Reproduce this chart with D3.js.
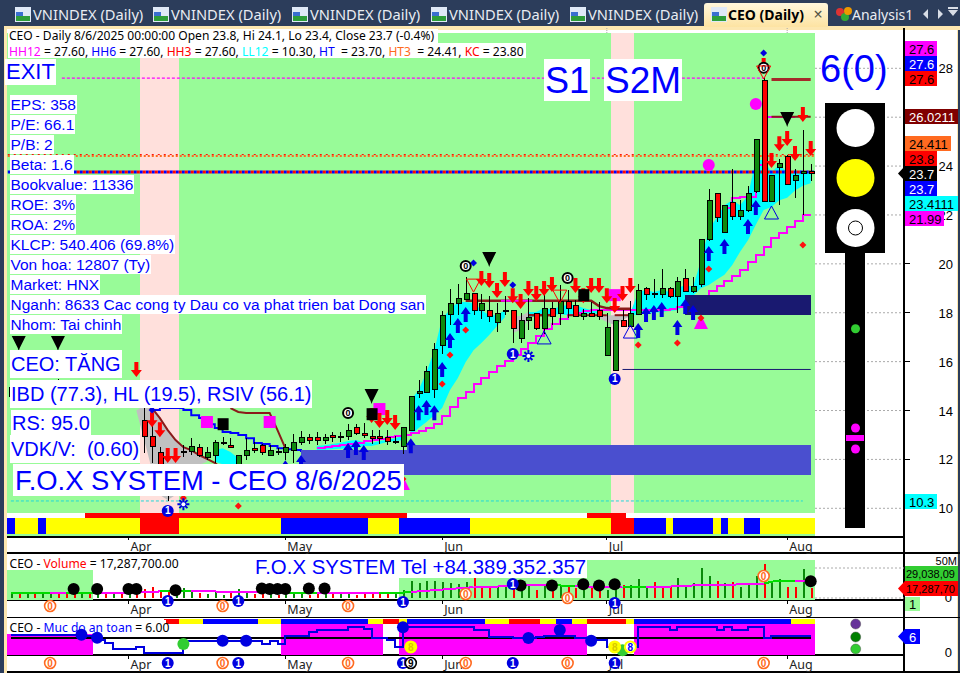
<!DOCTYPE html>
<html><head><meta charset="utf-8">
<script src="https://cdnjs.cloudflare.com/ajax/libs/d3/7.8.5/d3.min.js"></script>
<style>html,body{margin:0;padding:0;background:#fff;overflow:hidden}svg{display:block}text{white-space:pre}</style>
</head><body><svg id="c" width="960" height="673"></svg>
<script>
// Session index: 0 = 27 May 2025, -36 = 1 Apr, 51 = 6 Aug (sessions are trading days)
const firstSession=-51,lastSession=51;
const open=[14.6,14.95,14.85,15,14.85,15,15.1,15,14.9,14.8,14.9,14.75,14.85,14.7,14.8,14.6,14.7,
13.6,12.97,12.3,11.2,10.9,12.3,12.35,12.49,12.08,12.2,12.72,12.57,11.7,12.2,12.45,12.57,12.2,12.35,
12.29,12.37,12.7,12.9,12.9,12.78,12.98,12.9,12.97,13.31,13.1,12.97,12.97,12.9,12.75,12.56,
13.2,14.7,14.74,14.89,16.69,17.96,18.38,18.57,18.79,18.1,18.1,17.61,18.07,18.1,16.98,17.69,17.97,17.39,18.18,17.97,18.49,18.3,17.88,17.97,18.1,
16.28,15.67,17.7,17.46,17.95,19,18.79,18.77,19,18.68,19.41,18.9,19.18,21,22.88,21.29,22.52,21.97,22.19,23,27.52,22.58,23.97,24.41,23.42,23.7,23.8];
const high=[15,15.1,15.1,15.2,15.1,15.2,15.3,15.2,15.1,15,15.1,14.95,15,14.9,15,14.9,14.9,
14.09,13.68,12.52,11.5,11.6,12.6,12.86,12.65,12.52,12.79,12.93,12.86,12.2,12.86,12.72,12.65,12.57,12.45,
12.65,13.06,13.16,13.06,13.13,13.06,13.13,13.13,13.45,13.45,13.47,13.2,13.2,13.2,12.95,13.31,
14.59,15.25,15.83,16.75,18.07,18.96,19.18,19.45,18.79,18.77,18.68,18.38,18.68,18.1,17.97,18.59,17.97,18.79,18.45,19.13,18.93,18.52,18.14,18.45,18.45,
17.97,17.7,18.11,18.48,19.18,19.04,19.38,19.79,19.04,19.47,19.79,19.45,21.02,23.05,22.88,22.39,23.87,22.61,23.18,25.09,27.6,23.62,24.27,24.45,23.87,25.48,24.1];
const low=[14.5,14.8,14.7,14.8,14.7,14.9,14.9,14.8,14.7,14.6,14.7,14.6,14.6,14.5,14.4,14.1,14.2,
12.25,11.84,11,10.3,10.7,12.1,12.18,12.11,11.97,11.84,12.59,12.45,11.63,11.97,12.27,12.18,12.18,12.18,
11.97,11.84,12.59,12.65,12.59,12.65,12.72,12.72,12.79,13,12.86,12.65,12.65,12.59,12.63,12.22,
13.15,14.52,14.7,14.52,16.31,17.5,17.91,18.56,17.91,17.73,17.63,17.22,17.91,16.75,16.75,17.29,17.29,17.13,17.5,17.5,17.77,17.88,17.7,17.81,17.7,
16.28,15.67,17.43,17.46,17.95,18.52,18.59,18.59,18.59,18,18.9,18.79,19.04,20.95,21.73,21.29,21.8,21.8,22.13,22.91,22.58,22.58,22.41,23.28,22.71,22,23.4];
const close=[14.95,14.85,15,14.85,15,15.1,15,14.9,14.8,14.9,14.75,14.85,14.7,14.8,14.6,14.7,14.3,
12.97,12.56,11.2,10.7,11.5,12.34,12.56,12.2,12.29,12.7,12.73,12.49,12.2,12.37,12.38,12.29,12.37,12.29,
12.49,12.7,12.9,12.78,12.78,12.9,12.9,12.97,13.19,13.1,12.98,12.89,12.89,12.76,12.76,13.31,
14.59,14.78,15.6,16.5,17.89,18.38,18.59,18.79,18.1,18.38,17.88,17.97,18.1,17.39,17.69,17.81,17.39,18.18,17.88,18.49,18.18,17.88,17.97,17.88,17.88,
17.41,17.7,17.46,17.99,18.93,18.77,18.82,19,18.68,19.3,18.9,19.09,21.02,22.61,21.9,22.39,21.97,22.19,22.88,25.09,22.58,23.62,24.11,23.28,23.62,23.79,23.7];
const volume=[6,7,8,6,9,7,6,8,7,6,9,6,7,6,8,6,7,15,18,14,13,20,17,11,8,7,12,5,9,15,8,
7,6,8,5,6,7,6,5,7,9,7,6,8,5,6,8,7,6,7,14,29,25,29,29,27,25,23,27,33,
18,17,18,19,28,11,22,14,21,11,22,19,17,13,18,11,13,31,22,21,32,18,26,19,19,33,21,25,50,37,29,25,27,19,25,37,57,28,32,18,19,49,17.29];
const volumeColourFlips=[9,30,31,32,35,49];
const volumeMA=[9,9,9,9,9,8,8,8,8,8,8,9,9,9,9,9,9,10,10,11,11,12,12,12,11,11,11,10,10,10,10,
10,10,10,9,9,9,9,9,9,9,9,9,9,9,9,9,9,9,9,9,10,11,12,13,14,15,16,17,18,
18,18,19,20,22,22,22,21,21,21,21,20,20,19,19,19,18,18,19,19,19,19,19,19,19,20,20,21,21,21,22,22,22,23,23,24,24,27,29,29,29,29,29];
const volumeMAGreenRuns=[[-51,-46],[-43,-40],[-31,-28],[-15,-12],[-3,0],[19,21],[28,30],[46,49]];
const volumeDots=[[-43,15],[-40,15],[-36,15],[-35,15],[-30,13],[-19,16],[-18,15],[-17,15],[-16,15],[-13,16],[-11,16],[14,21],[18,21],[22,23],[24,21],[26,23],[51,28]];
const safetyStart=-51;
const safety=[6.4,6.4,6.4,6.4,6.4,6.4,6.4,6.4,6.4,6,6,4.7,3.5,1.5,1.5,1.5,2.4,.3,.3,.3,.3,.3,4.4,4.4,4.4,4.4,4.4,4.4,4.4,4.4,4.4,4.4,3.3,4.4,3.3,
6,6,6,7.2,8.1,8.1,8.1,8.1,9.2,9.2,8.3,5.2,5.2,4.7,2.4,9,
9,9,9,9,9,9,9,9,8.1,8.1,5.8,5.8,5.8,5.3,5.3,5.3,5.6,6,6,6,6,5.3,5.3,4.7,4.7,2.4,1.8,1.8,2.4,9,9,9,9,8.1,9,9,9,9,9,8.1,9,8.1,8.1,9,9,5.2,6,6,6,6,6,6];
const safetyLevel=5.3;
const stairStart=-12;
const stairStop=[12.46,12.5,12.55,12.59,12.63,12.67,12.75,12.79,12.83,12.91,12.96,13,13.08,13.16,13.28,13.45,13.77,14.14,14.51,14.76,15.08,15.33,15.58,15.82,16.02,16.27,16.51,16.76,17.05,17.33,17.54,17.74,17.91,17.99,18.07,
18.11,18.11,18.11,18.11,18.11,18.11,18.11,18.11,18.11,18.11,18.15,18.23,18.36,18.52,18.64,18.89,19.09,19.3,19.5,19.75,20.07,20.36,20.69,21.06,21.26,21.5,21.75,21.99,21.99];
const blueStart=-33;
const blueTrail=[14.02,14.1,14.1,14.1,14.02,13.81,13.69,13.44,13.28,13.12,13.08,13,12.87,12.67,12.63,12.55,12.46,12.42,12.38,12.3];
const redTrailA=[[-34,14.2],[-33,14.1],[-32,13.69],[-31,13.2],[-30,12.79],[-29,12.5],[-28,12.38],[-27,12.18],[-26,12.02],[-25,11.86],[-24,11.6]];
const redTrailB=[[-23,14.1],[-22,13.94],[-21,13.9],[-20,13.9],[-19,13.9],[-18,13.9],[-17,13.2],[-16,12.46]];
const redTrailC=[[7,18.49],[8,18.49],[9,18.49],[10,18.49],[14,18.49],[15,18.49],[19,18.49],[20,18.49],[22,18.49],[23,18.49],[24,18.27],[25,18.19],[26,18.16],[27,18.16],[28,18.16]];
const redTrailD=[[15,17.9],[18,17.9]];
const redTrailE=[[20,17.9],[25,17.9]];
const redTrailF=[[26,17.9],[28,17.9]];
const redTrailG=[[46,26.02],[51,26.02]];
const topBar=[[46,27.54],[51,27.54]];
const lowLine=[[27,15.68],[51,15.68]];
const highMagenta=[[40,22.3],[41,22.7],[42,22.75],[43,22.75],[44,24.05],[45,26],[46,26.02],[47,26.02],[48,26.02],[49,26.02]];
const magentaBlip=[[11.5,18.49],[15.5,18.49]];
// Bands, each session from the start index, null = no band
const cyanJuneStart=0;
const cyanJuneUp=[14.43,14.84,15.57,16.47,17.78,18.11,18.44,18.44,18.4,18.11,17.9,17.9,18.11,null,null,18.03,18.03,18.19,18.11,18.27,18.32,18.32,18.19,18.11,18.03];
const cyanJuneLow=[12.99,13.28,13.53,13.81,14.1,14.84,15.33,15.98,16.47,16.76,17.09,17.46,17.82,null,null,17.78,17.9,17.9,17.9,17.95,17.9,17.95,17.95,17.99,17.95];
const cyanJulyStart=28;
const cyanJulyUp=[17.99,18.85,18.93,18.85,18.93,18.85,19,19.13,19.05,20.15,21.38,21.9,22.4,22.6,22.4,22.8,24.25,24.25,23.75,24.05,23.75,23.75,23.75,23.75];
const cyanJulyLow=[17.93,17.9,18,18,18.03,18.07,18.1,18.3,18.7,19,19.13,19.35,19.55,19.95,20.5,20.97,21.6,22.2,22.33,22.6,22.7,23,23.2,23.3];
const cyanMayStart=-12;
const cyanMayUp=[12.55,12.58,12.63,12.68,12.75,12.79,12.71,12.67,12.75,12.79,12.87,12.96];
const cyanMayLow=[12.38,12.4,12.42,12.44,12.46,12.46,12.55,12.55,12.63,12.71,12.75,12.79];
const cyanAprStart=-25;
const cyanAprUp=[12.38,12.46,12.3,12.05];
const cyanAprLow=[11.9,11.8,11.8,11.81];
const grayAprStart=-35;
const grayAprUp=[14,14.22,14.1,13.69,13.2,12.79,12.5,12.38,12.18,12.02];
const grayAprLow=[14,12.79,11.56,10.54,10.34,10.54,10.75,11.36,11.77,11.9];
const grayJuneStart=13;
const grayJuneUp=[17.87,17.87,18.03];
const grayJuneLow=[17.17,17.29,17.7];
const grayJulyStart=24;
const grayJulyUp=[17.9,17.9,17.9,17.9,17.87];
const grayJulyLow=[17.78,17.62,17.5,17.7,17.87];
const zones=[[-14,-.5,12.38,11.36],[-.5,51,12.59,11.36],[35,51,18.73,17.91]];
const zoneColours=["#4a4fcf","#4a4fcf","#191970"];
const pinkBands=[[-34,-30],[26,28]];
// Bottom-of-pane state strips: [from session, to session, state]
const stateRuns=[[-51,-51,"B"],[-50,-48,"Y"],[-47,-47,"B"],[-46,-35,"Y"],[-34,-30,"R"],[-29,-17,"Y"],[-16,-6,"B"],[-5,-2,"Y"],[-1,7,"B"],[8,25,"Y"],[26,28,"R"],[29,32,"B"],[33,33,"Y"],[34,38,"B"],[39,39,"Y"],[40,40,"B"],[41,42,"Y"],[43,44,"B"],[45,51,"Y"]];
const topRedRuns=[[-41,-1],[23,27]];
const safetyRuns=[[-31,-30,"R"],[-29,-27,"Y"],[-26,-20,"B"],[-19,-17,"Y"],[-16,-6,"B"],[-5,-4,"Y"],[-3,-2,"R"],[-1,-1,"Y"],[0,9,"B"],[10,12,"Y"],[13,16,"R"],[17,18,"Y"],[19,20,"B"],[21,22,"Y"],[23,27,"R"],[28,28,"Y"],[29,48,"B"],[49,51,"Y"]];
const safetyMagentaRuns=[[-16,-4],[-1,22],[29,51]];
const safetyMagentaLowRuns=[[-51,-41]];
const volGreenRuns=[[-51,-41,570],[-1,22,578],[23,51,560]];
// Marks as [session, price]
const blueUp=[[1,14.22],[2,14.43],[3,14.22],[4,15.98],[5,17.17],[6,17.78],[7,18.23],[29,17.58],[30,18.23],[31,18.32],[32,18.44],[34,17.7],[35,18.56],[36,18.32],[38,20.73],[40,21.02],[43,21.83],[44,22.61],[-16,11.97],[-14,12.18],[-8,12.67],[-7,12.79],[-6,12.59],[0,12.87]];
const redDown=[[46,23.92],[47,24.61],[48,24.82],[49,24.21],[50,25.8],[51,24.41],[9,19.09],[10,19.01],[11,18.6],[12,19.05],[13,18.39],[14,18.15],[15,18.68],[16,18.48],[17,18.68],[18,18.85],[21,18.81],[22,18.39],[23,18.81],[24,18.81],[25,18.39],[26,17.99],[27,18.48],[28,18.81],[-5,13.49],[-4,13.28],[-3,13.41],[-2,13.2],[-33,13.32],[-32,12.91],[-31,11.85],[-30,11.85],[-35,15.37],[45,27.81]];
const redDiamond=[[4,15.08],[5,16.27],[7,17.29],[29,16.68],[34,16.76],[37,17.78],[38,19.79],[50,20.77],[-22,10.09],[-1,11.2],[-29,10.42]];
const blueDiamond=[[8,20.03],[13,19.13],[45,28.63],[-33,14.02]];
const ringZero=[[7,19.91],[20,19.42],[45,28.02],[-8,13.9]];
const blackTag=[[-24,13.44],[-5,13.85],[22,18.72]];
const blueOne=[[13,16.31],[26,15.29],[-31,9.89]];
const snowMark=[[15,16.23],[-29,10.17]];
const blackDown=[[10,20.24],[48,25.97],[-5,14.63],[-50,16.8],[-45,16.8]];
const magentaSquare=[[26,18.72],[-26,13.53],[-18,13.53],[-4,14.06]];
const magentaDot=[[38,24.04],[44,26.54]];
const magentaUp=[[37,17.62],[-1,11.03]];
const redOutlineDown=[[8,19.13],[19,18.68],[45,27.85]];
const blueOutlineUp=[[17,16.97],[28,17.21],[46,22.08]];
const volOrangeZero=[[7,594],[20,598],[45,576]];
const volStripOrange=[-46,-24,-8];
const volBlueOne=[[-31,601],[-22,601],[-1,602],[13,584],[26,603]];
const botOrange=[-46,-24,-8,7,20,45];
const botBlue=[-31,-22,-1,13,26];
const botDotsBlue=[[-42,6.4],[-40,5.4],[-24,4.4],[-21,4.4],[-1,9],[15,5.3],[19,8],[23,4.4]];
const botDotsGreen=[[-29,3.3],[27,1.2]];
const botEights=[[0,2.3,"#fff","#ffff00"],[26,2.3,"#fff","#ffff00"],[28,2.3,"#00f","#fff"]];
const monthSessions=[-36,-16,4,25,48];
const monthLabels=["Apr","May","Jun","Jul","Aug"];
const priceTicks=[28,26,24,22,20,18,16,14,12,10];
const priceTickLabels=[28,null,24,22,20,18,16,14,12,10];
const infoLines=["EPS: 358","P/E: 66.1","P/B: 2","Beta: 1.6","Bookvalue: 11336","ROE: 3%","ROA: 2%","KLCP: 540.406 (69.8%)","Von hoa: 12807 (Ty)","Market: HNX","Nganh: 8633 Cac cong ty Dau co va phat trien bat Dong san","Nhom: Tai chinh"];
const rightLabels=[[27.6,41,32,"#ff00ff","#000","27.6"],[27.6,56,32,"#0000ff","#fff","27.6"],[27.6,71,32,"#ff0000","#000","27.6"],[26.0211,109,53,"#800000","#fff","26.0211"],[24.411,136,46,"#ff6a20","#000","24.411"],[23.8,151,32,"#ff0000","#000","23.8"],[23.7,181,32,"#0000ff","#fff","23.7"],[23.4111,196,53,"#00ffff","#000","23.4111"],[21.99,211,39,"#ff00ff","#000","21.99"],[10.3,494,32,"#00ffff","#000","10.3"]];
const tabTitles=["VNINDEX (Daily)","VNINDEX (Daily)","VNINDEX (Daily)","VNINDEX (Daily)","VNINDEX (Daily)"];
const tabStarts=[15,153,292,431,570];

const svg=d3.select("#c");
const x=d3.scaleLinear().domain([firstSession,lastSession]).range([10.9,810.7]);
const step=x(1)-x(0);
const y=d3.scaleLinear().domain([10,28]).range([508.3,68.3]);
const vy=d3.scaleLinear().domain([0,50]).range([598,568]);
const sy=d3.scaleLinear().domain([0,6]).range([653.7,636]);
const sessions=d3.range(firstSession,lastSession+1);
const AR="'Liberation Sans',Arial,sans-serif",UI="'Noto Sans',sans-serif";
const L=(x1,y1,x2,y2,c,w,g=svg)=>g.append("line").attr("x1",x1).attr("y1",y1).attr("x2",x2).attr("y2",y2).attr("stroke",c).attr("stroke-width",w||1).attr("shape-rendering","crispEdges");
const R=(a,b,w,h,c,g=svg)=>g.append("rect").attr("x",a).attr("y",b).attr("width",w).attr("height",h).attr("fill",c).attr("shape-rendering","crispEdges");
const T=(a,b,s,fs,c,o={},g=svg)=>{const t=g.append("text").attr("x",a).attr("y",b).attr("font-size",fs).attr("font-family",o.f||AR).attr("fill",c).attr("dominant-baseline","central").attr("text-anchor",o.a||"start").text(s);if(o.w)t.attr("font-weight",o.w);return t;};
const runX=(a,b)=>[x(a)-step/2,x(b)+step/2];

// Window chrome
R(0,0,960,673,"#fff");
R(0,0,960,26,"#2c3d5b");R(0,26,960,4,"#fde7b0");R(0,26,4,647,"#2c3d5b");R(4,26,3,647,"#fde7b0");R(957,26,3,647,"#fde7b0");R(958,30,2,643,"#2c3d5b");
tabTitles.forEach((t,i)=>{const a=tabStarts[i];R(a,7,16,15,"#dfe9f7");R(a+1,16,14,5,"#2e9e3a");R(a+1,12,7,4,"#3a6fd0");T(a+18,14,t,14.7,"#e8ecf2",{f:UI});});
const grad=svg.append("defs").append("linearGradient").attr("id","tab").attr("x1",0).attr("x2",0).attr("y1",0).attr("y2",1);
grad.append("stop").attr("offset",0).attr("stop-color","#fff7dc");grad.append("stop").attr("offset",1).attr("stop-color","#fde3a2");
svg.append("path").attr("d","M704,27V6q0,-3 3,-3H825q3,0 3,3V27Z").attr("fill","url(#tab)");
R(711,7,16,15,"#dfe9f7");R(712,16,14,5,"#2e9e3a");R(712,12,7,4,"#3a6fd0");
T(728,14,"CEO (Daily)",14,"#000",{f:UI,w:700});T(818,14,"×",16,"#554",{f:UI,a:"middle"});
svg.append("circle").attr("cx",840).attr("cy",12).attr("r",4).attr("fill","#d33");svg.append("circle").attr("cx",845).attr("cy",17).attr("r",4).attr("fill","#3a3");svg.append("circle").attr("cx",848).attr("cy",11).attr("r",4).attr("fill","#e90");
T(852,14,"Analysis1",14,"#e8ecf2",{f:UI});
svg.append("path").attr("d","M928,9l-5,5 5,5ZM938,9l5,5 -5,5ZM948,10h10l-5,6ZM948,7h10v2h-10Z").attr("fill","#d8dde6");

// Main pane
R(7,33,808,480,"#98fb98");
pinkBands.forEach(([a,b])=>{const [p,q]=runX(a,b);R(p,33,q-p,480,"#ffe0dc");});
priceTicks.forEach(t=>{svg.append("line").attr("x1",815).attr("x2",904).attr("y1",y(t)).attr("y2",y(t)).attr("stroke","#aaa").attr("stroke-dasharray","2,2");});
// State strips
const stateColour={B:"#0000ff",Y:"#ffff00",R:"#ff0000"};
topRedRuns.forEach(([a,b])=>{const [p,q]=runX(a,b);R(p,513,q-p,5,"#ff0000");});
stateRuns.forEach(([a,b,s])=>{const [p,q]=runX(a,b);R(p,518,q-p,16,stateColour[s]);});
R(7,534,808,2,"#98fb98");

// Bands
function band(start,up,low,col){const d=up.map((u,k)=>({i:start+k,u,l:low[k]}));
 svg.append("path").attr("d",d3.area().defined(e=>e.u!==null).x(e=>x(e.i)).y0(e=>y(e.l)).y1(e=>y(e.u))(d)).attr("fill",col);}
band(grayAprStart,grayAprUp,grayAprLow,"#c0c0c0");band(grayJuneStart,grayJuneUp,grayJuneLow,"#c0c0c0");band(grayJulyStart,grayJulyUp,grayJulyLow,"#c0c0c0");
band(cyanAprStart,cyanAprUp,cyanAprLow,"#00ffff");band(cyanMayStart,cyanMayUp,cyanMayLow,"#00ffff");band(cyanJuneStart,cyanJuneUp,cyanJuneLow,"#00ffff");band(cyanJulyStart,cyanJulyUp,cyanJulyLow,"#00ffff");

// Lines
const lineOf=(pairs,col,w,curve)=>svg.append("path").attr("d",d3.line().curve(curve||d3.curveLinear).x(d=>x(d[0])).y(d=>y(d[1]))(pairs)).attr("fill","none").attr("stroke",col).attr("stroke-width",w);
lineOf(stairStop.map((v,k)=>[stairStart+k,v]),"#ff00ff",2,d3.curveStepAfter).attr("shape-rendering","crispEdges");
lineOf(highMagenta,"#ff00ff",2,d3.curveStepAfter).attr("shape-rendering","crispEdges");
lineOf(blueTrail.map((v,k)=>[blueStart+k,v]),"#0000ff",2,d3.curveStepAfter);
lineOf(redTrailA,"#8b1a1a",2);lineOf(redTrailB,"#8b1a1a",2);lineOf(redTrailC,"#8b1a1a",2.5);lineOf(redTrailD,"#8b1a1a",2.5);lineOf(redTrailE,"#8b1a1a",2);lineOf(redTrailF,"#8b1a1a",2);
lineOf(redTrailG,"#8b1a1a",2);lineOf(magentaBlip,"#ff00ff",2);
lineOf(topBar,"#a52a2a",3);lineOf(lowLine,"#191970",1);
lineOf([[-44.5,27.6],[45,27.6]],"#ff00ff",1.2).attr("stroke-dasharray","3,2");
lineOf([[-51.4,24.41],[51.4,24.41]],"#ff6a20",2).attr("stroke-dasharray","2,2");
lineOf([[-51.4,24.47],[51.4,24.47]],"#ff0000",1).attr("stroke-dasharray","2,4");
lineOf([[-51.4,23.76],[51.4,23.76]],"#0000ff",3).attr("stroke-dasharray","3,3");
lineOf([[-51.4,23.76],[51.4,23.76]],"#ff0000",3).attr("stroke-dasharray","3,3").attr("stroke-dashoffset",3);
lineOf([[-51,10.3],[50,10.3]],"#20d8d8",1).attr("stroke-dasharray","3,2");

// Demand zones
zones.forEach(([a,b,u,l],k)=>{const p=x(a),q=x(b);R(p,y(u),q-p,y(l)-y(u),zoneColours[k]);});

// Candles
const cg=svg.append("g").attr("shape-rendering","crispEdges");
sessions.forEach((s,k)=>{const px=Math.round(x(s))+.5;
 L(px,y(high[k]),px,y(low[k]),"#000",1,cg);
 const top=Math.round(y(Math.max(open[k],close[k]))),bot=Math.round(y(Math.min(open[k],close[k])));
 cg.append("rect").attr("x",px-2.5).attr("y",top+.5).attr("width",5).attr("height",Math.max(bot-top,1)).attr("fill",close[k]>=open[k]?"#0f8a0f":"#ff0000").attr("stroke","#000");});

// Marks
const place=(sel)=>sel.attr("transform",d=>`translate(${x(d[0])},${y(d[1])})`);
const marks=(data,build)=>build(place(svg.append("g").selectAll("g").data(data).join("g")));
marks(magentaDot,g=>g.append("circle").attr("r",6).attr("fill","#ff00ff"));
marks(magentaSquare,g=>g.append("rect").attr("x",-6).attr("y",-6).attr("width",12).attr("height",12).attr("fill","#ff00ff"));
marks(magentaUp,g=>g.append("path").attr("d","M0,-7L7,7H-7Z").attr("fill","#ff00ff"));
marks(blueUp,g=>g.append("path").attr("d","M0,0L5,7H2V15H-2V7H-5Z").attr("fill","#0000e0"));
marks(redDown,g=>g.append("path").attr("d","M0,0L5.5,-7H2V-15H-2V-7H-5.5Z").attr("fill","#ff0000"));
marks(redDiamond,g=>g.append("path").attr("d","M0,-3.5L3.5,0L0,3.5L-3.5,0Z").attr("fill","#ff1010"));
marks(blueDiamond,g=>g.append("path").attr("d","M0,-3.5L3.5,0L0,3.5L-3.5,0Z").attr("fill","#0000e0"));
marks(blackDown,g=>g.append("path").attr("d","M-7,-6H7L1,6L0,9L-1,6Z").attr("fill","#000"));
marks(blackTag,g=>{g.append("rect").attr("x",-5).attr("y",-6).attr("width",11).attr("height",12).attr("fill","#000");});
marks(ringZero,g=>{g.append("circle").attr("r",5).attr("fill","#fff").attr("stroke","#000").attr("stroke-width",2);g.append("text").attr("text-anchor","middle").attr("dominant-baseline","central").attr("font-family",AR).attr("font-size",9).attr("font-weight",700).text("0");});
marks(redOutlineDown,g=>g.append("path").attr("d","M-7,-6H7L0,7Z").attr("fill","none").attr("stroke","#ff0000"));
marks(blueOutlineUp,g=>g.append("path").attr("d","M0,-7L7,6H-7Z").attr("fill","none").attr("stroke","#0000e0"));
marks(blueOne,g=>{g.append("circle").attr("r",6).attr("fill","#0000e0");g.append("text").attr("text-anchor","middle").attr("dominant-baseline","central").attr("font-family",AR).attr("font-size",10).attr("font-weight",700).attr("fill","#fff").text("1");});
marks(snowMark,g=>{g.append("path").attr("d","M0,-6V6M-6,0H6M-4,-4L4,4M-4,4L4,-4").attr("stroke","#0000e0").attr("stroke-width",2);g.append("circle").attr("r",2).attr("fill","#fff");});

// Header and text boxes
R(7,29,431,14,"#fff");R(7,43,519,15,"#fff");R(7,33,1,25,"#98fb98");
T(9,35.5,"CEO - Daily 8/6/2025 00:00:00 Open 23.8, Hi 24.1, Lo 23.4, Close 23.7 (-0.4%)",12.05,"#000",{f:UI});
const hdr=T(9,51,"",12.1,"#000",{f:UI});
[["HH12","#ff00ff"],[" = 27.60, ","#000"],["HH6","#0000ff"],[" = 27.60, ","#000"],["HH3","#ff0000"],[" = 27.60, ","#000"],["LL12","#00ffff"],[" = 10.30, ","#000"],["HT","#0000ff"],["  = 23.70, ","#000"],["HT3","#ff6a20"],["  = 24.41, ","#000"],["KC","#ff0000"],[" = 23.80","#000"]].forEach(([s,c])=>hdr.append("tspan").attr("fill",c).text(s));
function box(a,cy,s,fs,pad=1,hh){const t=T(a,cy,s,fs,"#0000ff");const w=t.node().getComputedTextLength();const h=hh||Math.round(fs*1.2);svg.insert("rect",()=>t.node()).attr("x",a-pad).attr("y",cy-h/2).attr("width",w+2*pad).attr("height",h).attr("fill","#fff").attr("shape-rendering","crispEdges");return t;}
box(6,71.5,"EXIT",22,1,26);
box(545,80,"S1",36,1,42);box(605,80,"S2M",37,1,42);
infoLines.forEach((s,k)=>box(10.5,104+k*20,s,15.5,1,19));
box(11,364,"CEO: TĂNG",20,1,28);
box(11,393.5,"IBD (77.3), HL (19.5), RSIV (56.1)",20,1,28);
box(12,423,"RS: 95.0",20,1,26);
box(11,449,"VDK/V:  (0.60)",20,1,28);
box(15,480,"F.O.X SYSTEM - CEO 8/6/2025",27.4,2,32);
T(820,69,"6(0)",38,"#0000ff");

// Traffic light
R(825,103,60,150,"#000");R(845,253,20,275,"#000");
[[128,"#fff"],[178,"#ffff00"],[228,"#fff"]].forEach(([c,f])=>svg.append("circle").attr("cx",855.5).attr("cy",c).attr("r",19).attr("fill",f));
svg.append("circle").attr("cx",855.5).attr("cy",228).attr("r",7).attr("fill","none").attr("stroke","#000");
svg.append("circle").attr("cx",855.5).attr("cy",328.7).attr("r",4.5).attr("fill","#32cd32");
svg.append("circle").attr("cx",855.5).attr("cy",428).attr("r",4.5).attr("fill","#ff00ff");
R(846,435,18,6,"#ff00ff");
svg.append("circle").attr("cx",855.5).attr("cy",449).attr("r",4.5).attr("fill","#ff00ff");

// Frame lines
L(7,536.5,904,536.5,"#000",2);L(7,553,960,553,"#000",1.5);L(7,600,904,600,"#000",1.5);L(7,617.5,960,617.5,"#000",1.5);L(7,655,904,655,"#000",1.5);L(7,672,960,672,"#000",1.5);
L(904,28,904,673,"#000",1.5);
priceTicks.forEach(t=>L(904,y(t),910,y(t),"#000",1));
priceTickLabels.forEach((t,k)=>{if(t!==null)T(953,y(priceTicks[k])+.5,String(t),13,"#000",{a:"end"});});

// Month ticks and labels
[[536,540,546],[600,604,609],[655,659,664]].forEach(([a,b,c])=>monthSessions.forEach((s,k)=>{L(x(s),a,x(s),b,"#000",1);T(x(s)+2,c,monthLabels[k],12.5,"#222",{f:UI});}));
monthSessions.slice(3).forEach(s=>svg.append("line").attr("x1",x(s)).attr("x2",x(s)).attr("y1",28).attr("y2",33).attr("stroke","#aaa").attr("stroke-dasharray","1,1"));

// Volume pane
volGreenRuns.forEach(([a,b,t])=>{const [p,q]=runX(a,b);R(p,t,q-p,600-t,"#98fb98");});
[0,50].forEach(t=>svg.append("line").attr("x1",815).attr("x2",904).attr("y1",vy(t)).attr("y2",vy(t)).attr("stroke","#aaa").attr("stroke-dasharray","2,2"));
R(9,555,170,14,"#fff");
const vt=T(9.5,562.5,"",12.1,"#000",{f:UI});[["CEO - ","#000"],["Volume","#ff0000"],[" = 17,287,700.00","#000"]].forEach(([s,c])=>vt.append("tspan").attr("fill",c).text(s));
sessions.forEach((s,k)=>{let up=close[k]>=open[k];if(volumeColourFlips.includes(s))up=!up;
 L(Math.round(x(s))+.5,vy(volume[k]),Math.round(x(s))+.5,vy(0),up?"#0a8a0a":"#ff0000",2);});
sessions.slice(1).forEach((s,k)=>{const g=volumeMAGreenRuns.some(([a,b])=>s>=a&&s<=b);
 L(x(s-1),vy(volumeMA[k]),x(s),vy(volumeMA[k+1]),g?"#00dd00":"#ff00ff",2);});
svg.append("g").selectAll("circle").data(volumeDots).join("circle").attr("cx",d=>x(d[0])).attr("cy",d=>vy(d[1])).attr("r",6).attr("fill","#000");
R(253,556,334,22,"#fff");
T(255,567,"F.O.X SYSTEM Tel +84.389.352.357",20.4,"#0000ff");

function orange(cx,cy){svg.append("circle").attr("cx",cx).attr("cy",cy).attr("r",5.5).attr("fill","#fff").attr("stroke","#ff6a20").attr("stroke-width",1.6);T(cx,cy+.5,"0",10,"#ff6a20",{a:"middle",w:700});}
function blue1(cx,cy){svg.append("circle").attr("cx",cx).attr("cy",cy).attr("r",6).attr("fill","#0000e0");T(cx,cy+.5,"1",10,"#fff",{a:"middle",w:700});}
volStripOrange.forEach(s=>orange(x(s),606));
volOrangeZero.forEach(([s,c])=>orange(x(s),c));
volBlueOne.forEach(([s,c])=>blue1(x(s),c));

// Safety pane
safetyMagentaLowRuns.forEach(([a,b])=>{const [p,q]=runX(a,b);R(p,634,q-p,21,"#ff00ff");});
safetyMagentaRuns.forEach(([a,b])=>{const [p,q]=runX(a,b);R(p,624,q-p,31,"#ff00ff");});
safetyRuns.forEach(([a,b,s])=>{const [p,q]=runX(a,b);R(p,619,q-p,5,stateColour[s]);});
R(9,620,157,14,"#fff");
const st=T(9.5,627,"",12.1,"#000",{f:UI});[["CEO - ","#000"],["Muc do an toan","#0000ff"],[" = 6.00","#000"]].forEach(([s,c])=>st.append("tspan").attr("fill",c).text(s));
L(x(-51),sy(safetyLevel),x(51),sy(safetyLevel),"#000",2);
svg.append("path").attr("d",d3.line().curve(d3.curveStepAfter).x((d,k)=>x(safetyStart+k)).y(d=>sy(d))(safety)).attr("fill","none").attr("stroke","#0000e0").attr("stroke-width",2).attr("shape-rendering","crispEdges");
svg.append("g").selectAll("circle").data(botDotsBlue).join("circle").attr("cx",d=>x(d[0])).attr("cy",d=>sy(d[1])).attr("r",6).attr("fill","#0000e0");
svg.append("g").selectAll("circle").data(botDotsGreen).join("circle").attr("cx",d=>x(d[0])).attr("cy",d=>sy(d[1])).attr("r",6).attr("fill","#32cd32");
botEights.forEach(([s,v,f,bg])=>{svg.append("circle").attr("cx",x(s)).attr("cy",sy(v)).attr("r",5.5).attr("fill",bg==="#fff"?"#fff":"#ffff00").attr("stroke","#ffff00").attr("stroke-width",2);T(x(s),sy(v)+.5,"8",10,f==="#fff"?"#d8c800":f,{a:"middle",w:700});});
botOrange.forEach(s=>orange(x(s),663));botBlue.forEach(s=>blue1(x(s),663));
svg.append("circle").attr("cx",x(0)).attr("cy",663).attr("r",5.5).attr("fill","#fff").attr("stroke","#000").attr("stroke-width",1.6);T(x(0),663.5,"9",10,"#000",{a:"middle",w:700});
[[624,"#663399"],[637,"#008000"],[649,"#32cd32"]].forEach(([c,f])=>svg.append("circle").attr("cx",855.7).attr("cy",c).attr("r",5).attr("fill",f).attr("stroke","#555").attr("stroke-width",.5));

// Right-hand labels
T(957,561,"50M",11,"#000",{a:"end"});T(952,597.5,"0",13,"#000",{a:"end"});T(952,652,"0",13,"#000",{a:"end"});
rightLabels.forEach(([v,t,w,bg,fg,s])=>{R(905,t,w,15,bg);T(909,t+8,s,13,fg);});
const arrowLabel=(t,w,bg,fg,s,fs=13,a=909)=>{svg.append("path").attr("d",`M898,${t+7.5}L905,${t}H${905+w}V${t+15}H905Z`).attr("fill",bg);T(a,t+8,s,fs,fg);};
arrowLabel(166,32,"#000","#fff","23.7");
R(905,566,53,15,"#32cd32");T(906,574,"29,038,09",11,"#000");
arrowLabel(581,53,"#ff0000","#000","17,287,70",11,906);
R(905,597,15,14,"#98fb98");T(909,604,"1",13,"#000");
arrowLabel(629,15,"#0000ff","#fff","6");
</script></body></html>
